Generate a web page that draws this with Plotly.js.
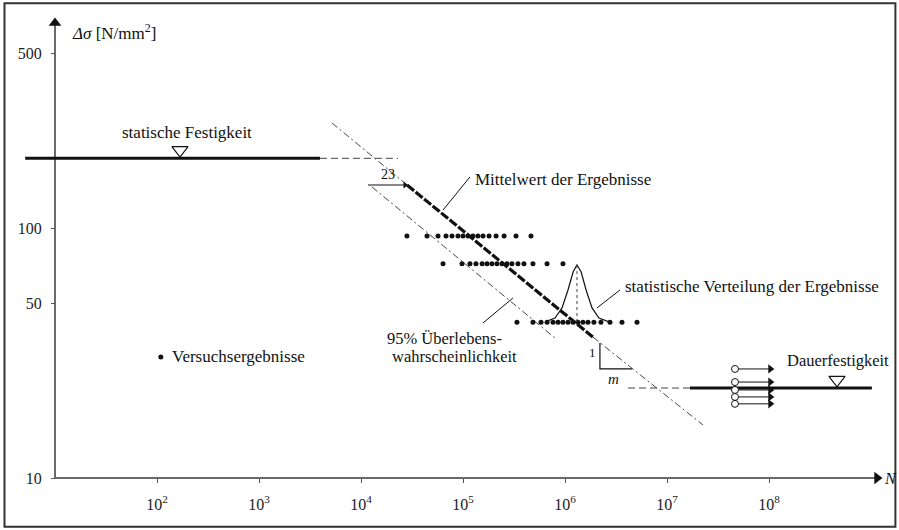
<!DOCTYPE html>
<html>
<head>
<meta charset="utf-8">
<script src="https://cdn.plot.ly/plotly-3.0.1.min.js"></script>
<style>html,body{margin:0;padding:0;background:#fff}#chart{width:899px;height:530px}</style>
</head>
<body>
<div id="chart"></div>
<script>
// ---- data (N = load cycles, S = stress range in N/mm^2) ----
var xTickVals = [1e2, 1e3, 1e4, 1e5, 1e6, 1e7, 1e8];
var xTickText = ['10<sup>2</sup>','10<sup>3</sup>','10<sup>4</sup>','10<sup>5</sup>','10<sup>6</sup>','10<sup>7</sup>','10<sup>8</sup>'];
var yTickVals = [10, 50, 100, 500];
var yTickText = ['10', '50', '100', '500'];

// test results, three stress levels
var row1S = 93;
var row1N = [2.82e4,4.44e4,5.69e4,6.81e4,7.80e4,8.93e4,1.0e5,1.12e5,1.25e5,1.40e5,1.57e5,1.80e5,2.11e5,2.53e5,3.31e5,4.64e5];
var row2S = 72;
var row2N = [6.37e4,9.78e4,1.17e5,1.34e5,1.54e5,1.72e5,1.92e5,2.15e5,2.41e5,2.70e5,3.02e5,3.46e5,3.96e5,4.85e5,6.67e5,9.55e5];
var row3S = 42;
var row3N = [3.38e5,4.85e5,5.82e5,6.67e5,7.63e5,8.54e5,9.55e5,1.07e6,1.20e6,1.34e6,1.50e6,1.68e6,1.92e6,2.25e6,2.76e6,3.62e6,5.08e6];

// static strength
var staticS = 190;
var staticSolidN = [5.1, 3.96e3];
var staticDashN = [3.96e3, 2.31e4];

// mean S-N line (thin upper part, thick data part, thin lower part)
var meanUpN = [5.2e3, 2.83e4];   var meanUpS = [263, 148.6];
var meanMidN = [2.83e4, 1.88e6]; var meanMidS = [148.6, 36.6];
var meanLowN = [1.88e6, 2.25e7]; var meanLowS = [36.6, 16.3];

// 95% survival line
var survN = [1.28e4, 7.98e5]; var survS = [146, 36.3];

// endurance limit
var endS = 22.9;
var endDashN = [4.15e6, 1.68e7];
var endSolidN = [1.68e7, 1.02e9];

// run-outs
var runoutN = 4.64e7;
var runoutArrowN = 1.03e8;
var runoutS = [27.3, 24.2, 22.5, 21.1, 19.8];

// distribution bell at stress level 3
var bellN = [6.37e5,7.98e5,9.35e5,1.07e6,1.20e6,1.31e6,1.44e6,1.61e6,1.84e6,2.15e6,2.70e6];
var bellS = [42.1,43.6,47.9,56.5,66.7,71.1,66.7,56.5,47.9,43.6,42.1];
var bellAxisN = [1.31e6, 1.31e6]; var bellAxisS = [71.1, 42.1];

// slope triangle
var triN = [2.20e6, 2.20e6, 4.54e6]; var triS = [34.7, 27.3, 27.3];

// leader lines
var leadMeanN = [1.17e5, 6.37e4]; var leadMeanS = [160, 118];
var leadDistN = [3.46e6, 2.06e6]; var leadDistS = [56.5, 47.9];
var leadSurvN = [1.57e5, 3.09e5]; var leadSurvS = [41.7, 52.5];

// scatter-width arrow
var widthN = [1.17e4, 2.70e4]; var widthS = [148.6, 148.6];

// axes lines
var yAxisN = [10, 10]; var yAxisS = [10, 660];
var xAxisN = [10, 1.146e9]; var xAxisS = [10, 10];

// text labels [N, S, text, xanchor, size]
var labels = [
  [197, 242, 'statische Festigkeit', 'center', 17],
  [1.25e5, 156, 'Mittelwert der Ergebnisse', 'left', 17],
  [3.71e6, 58.1, 'statistische Verteilung der Ergebnisse', 'left', 17],
  [1.72e4, 36.0, '95% Überlebens-', 'left', 16.5],
  [1.92e4, 30.5, 'wahrscheinlichkeit', 'left', 16.5],
  [134, 30.5, 'Versuchsergebnisse', 'left', 17],
  [1.45e8, 29.6, 'Dauerfestigkeit', 'left', 16.5],
  [1.84e4, 164, '23', 'center', 14],
  [1.84e6, 31.9, '1', 'center', 13],
  [3.02e6, 24.9, '<i>m</i>', 'center', 15],
  [1.57e9, 10, '<i>N</i>', 'center', 16],
  [14.0, 608, '<i>Δσ</i> [N/mm<sup>2</sup>]', 'left', 17]
];

// ---- traces ----
var K = '#111';
var FONT = 'Liberation Serif, Times New Roman, serif';
function line(x, y, w, dash, color) {
  return {x: x, y: y, mode: 'lines', type: 'scatter', hoverinfo: 'skip', showlegend: false,
          line: {color: color || K, width: w, dash: dash || 'solid'}};
}
function mk(x, y, sym, size, extra) {
  var t = {x: x, y: y, mode: 'markers', type: 'scatter', hoverinfo: 'skip', showlegend: false, cliponaxis: false,
           marker: {symbol: sym, size: size, color: K}};
  if (extra) t.marker.line = extra;
  return t;
}
var traces = [];
// axes
traces.push(line(yAxisN, yAxisS, 2, 'solid', '#6a6a6a'));
traces.push(line(xAxisN, xAxisS, 2, 'solid', '#6a6a6a'));
traces.push(mk([yAxisN[1]], [yAxisS[1]], 'triangle-up', 11));
traces.push(mk([xAxisN[1]], [xAxisS[1]], 'triangle-right', 11));

// static strength
traces.push(line(staticSolidN, [staticS, staticS], 3));
traces.push(line(staticDashN, [staticS, staticS], 1, '7px,4px', '#444'));
// mean line
traces.push(line(meanUpN, meanUpS, 1, '7px,3px,2px,3px', '#444'));
traces.push(line(meanMidN, meanMidS, 3.2, '9px,2px'));
traces.push(line(meanLowN, meanLowS, 1, '7px,3px,2px,3px', '#444'));
// survival line
traces.push(line(survN, survS, 1, '7px,3px,2px,3px', '#444'));
// endurance
traces.push(line(endDashN, [endS, endS], 1, '7px,4px', '#444'));
traces.push(line(endSolidN, [endS, endS], 3));

// test results
[[row1N, row1S], [row2N, row2S], [row3N, row3S]].forEach(function (r) {
  traces.push(mk(r[0], r[0].map(function () { return r[1]; }), 'circle', 5));
});

// bell
traces.push(line(bellN, bellS, 1.2));
traces.push(line(bellAxisN, bellAxisS, 1, '3px,3px', '#444'));
// slope triangle
traces.push(line(triN, triS, 1.2));
// leaders
traces.push(line(leadMeanN, leadMeanS, 1));
traces.push(line(leadDistN, leadDistS, 1));
traces.push(line(leadSurvN, leadSurvS, 1));
// width arrow
traces.push(line(widthN, widthS, 1.2));
traces.push(mk([widthN[1]], [widthS[1]], 'triangle-right', 6));

// run-outs
runoutS.forEach(function (s) {
  traces.push(line([runoutN, runoutArrowN], [s, s], 1));
  traces.push(mk([runoutArrowN], [s], 'triangle-right', 8));
});
var ro = mk(runoutS.map(function () { return runoutN; }), runoutS, 'circle', 7, {color: K, width: 1});
ro.marker.color = '#fff';
traces.push(ro);

// limit markers
traces.push(mk([168], [205], 'triangle-down-open', 14, {width: 1.2}));
traces.push(mk([4.64e8], [24.7], 'triangle-down-open', 14, {width: 1.2}));
// legend dot
traces.push(mk([109], [30.5], 'circle', 5));

var annotations = labels.map(function (l) {
  return {x: Math.log10(l[0]), y: Math.log10(l[1]), xref: 'x', yref: 'y', text: l[2],
          xanchor: l[3], yanchor: 'middle', showarrow: false,
          font: {family: FONT, size: l[4], color: K}};
});

var layout = {
  width: 899, height: 530,
  margin: {l: 0, r: 0, t: 0, b: 0},
  paper_bgcolor: '#fff', plot_bgcolor: '#fff',
  showlegend: false,
  xaxis: {type: 'log', range: [0.4608, 9.2745], anchor: 'free', position: 52 / 530,
          showline: false, showgrid: false, zeroline: false,
          tickvals: xTickVals, ticktext: xTickText, ticks: 'outside', ticklen: 4, tickcolor: '#555',
          ticklabelstandoff: 8,
          tickfont: {family: FONT, size: 16, color: '#222'}, fixedrange: true},
  yaxis: {type: 'log', range: [0.792, 2.912], anchor: 'free', position: 55 / 899,
          showline: false, showgrid: false, zeroline: false,
          tickvals: yTickVals, ticktext: yTickText, ticks: 'outside', ticklen: 4, tickcolor: '#555',
          ticklabelstandoff: 6,
          tickfont: {family: FONT, size: 16, color: '#222'}, fixedrange: true},
  annotations: annotations,
  shapes: [{type: 'rect', xref: 'paper', yref: 'paper', x0: 0.005, x1: 0.996, y0: 0.006, y1: 0.994,
            line: {color: '#333', width: 2}}]
};
Plotly.newPlot('chart', traces, layout, {displayModeBar: false, staticPlot: true});
</script>
</body>
</html>
